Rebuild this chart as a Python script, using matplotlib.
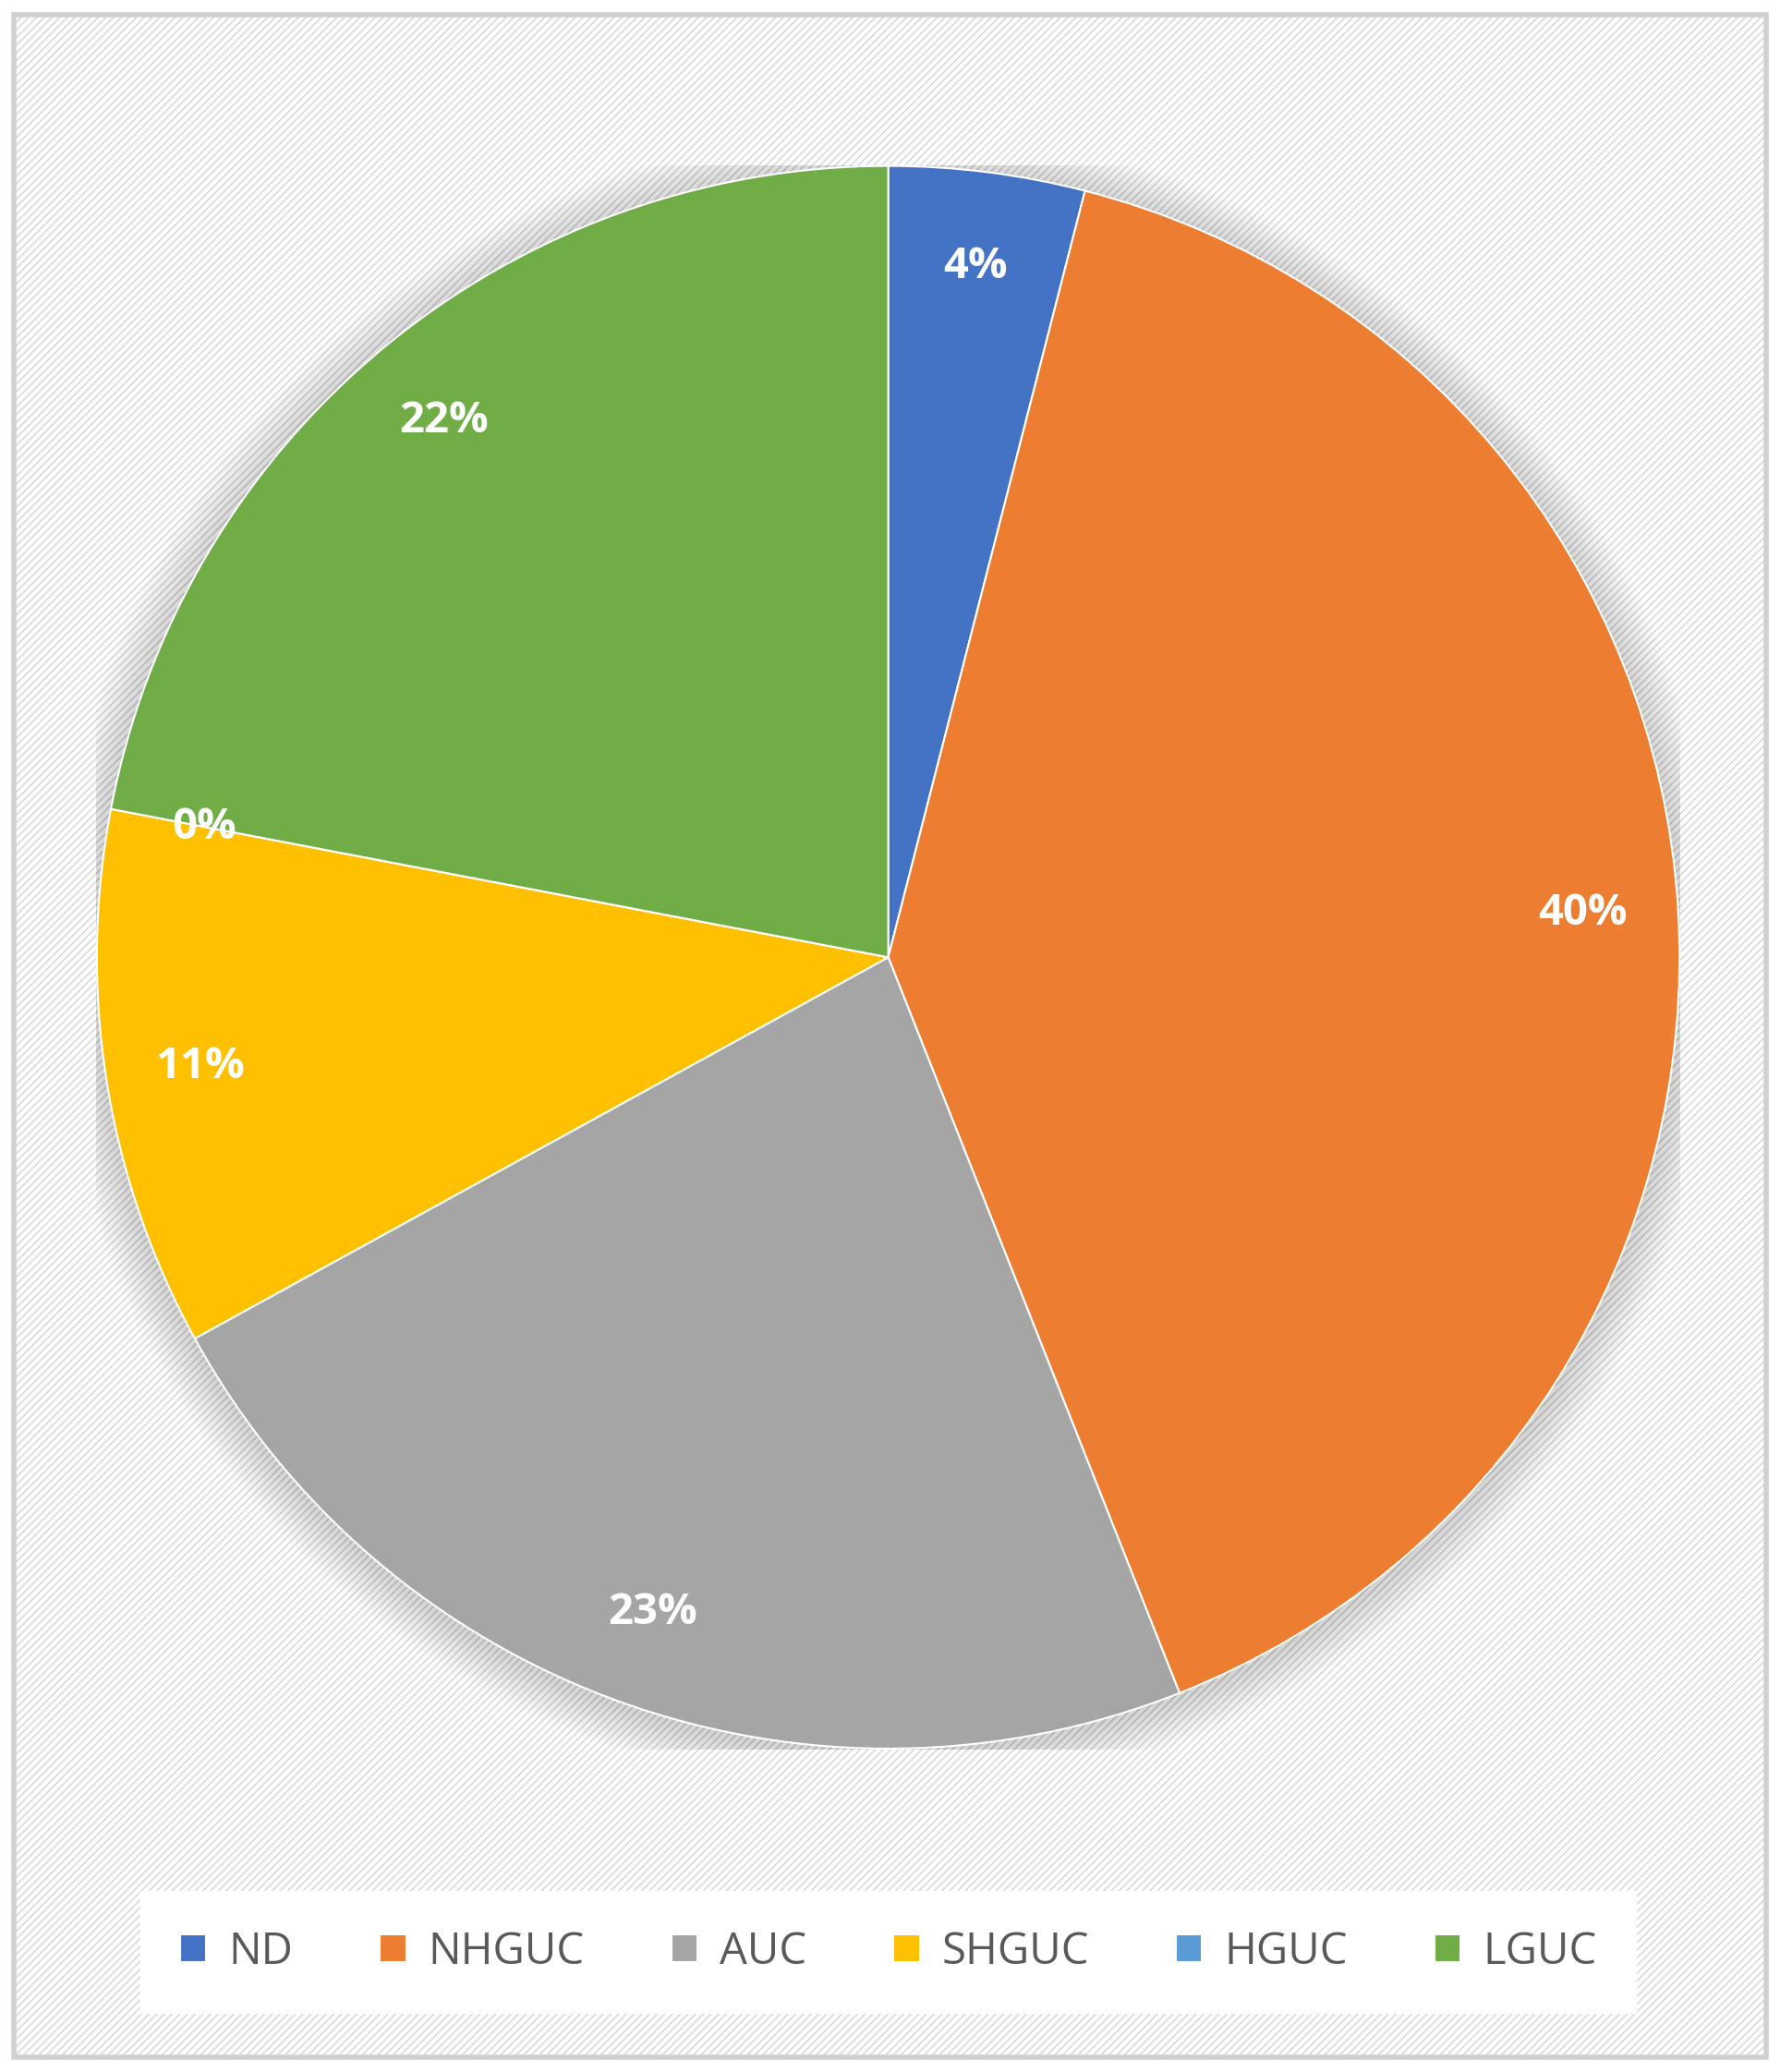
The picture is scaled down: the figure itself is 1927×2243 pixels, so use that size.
import matplotlib
matplotlib.use("Agg")
import matplotlib.pyplot as plt
from matplotlib.patches import Rectangle, Circle

labels = ["ND", "NHGUC", "AUC", "SHGUC", "HGUC", "LGUC"]
values = [4, 40, 23, 11, 0, 22]
colors = ["#4472C4", "#ED7D31", "#A5A5A5", "#FFC000", "#5B9BD5", "#70AD47"]

plt.rcParams['font.family'] = ['Open Sans', 'DejaVu Sans']
fig = plt.figure(figsize=(19.27, 22.43), dpi=100)
fig.patch.set_facecolor("white")

# hatched background + grey border
bg = Rectangle((0.008, 0.007), 0.984, 0.986, transform=fig.transFigure,
               facecolor="white", edgecolor="#d4d4d4", hatch="////", lw=0)
bg.set_zorder(-5)
fig.patches.append(bg)
fig.patches.append(Rectangle((0.008, 0.007), 0.984, 0.986, transform=fig.transFigure,
                             facecolor="none", edgecolor="#d0d0d0", lw=4, zorder=-4))
plt.rcParams['hatch.color'] = "#e6e6e6"
plt.rcParams['hatch.linewidth'] = 1.5

w = 0.89
h = w * 19.27 / 22.43
ax = fig.add_axes([0.499 - w / 2, 0.538 - h / 2, w, h])
ax.set_xlim(-1, 1); ax.set_ylim(-1, 1); ax.set_aspect("equal"); ax.axis("off")

# soft shadow
for i in range(14):
    ax.add_patch(Circle((0.0, -0.005), 1.0 + 0.004 * (14 - i), color="black",
                        alpha=0.012, lw=0, zorder=0))

wedges, texts, autotexts = ax.pie(
    values, colors=colors, startangle=90, counterclock=False, radius=1.0,
    autopct="%1.0f%%", pctdistance=0.88,
    wedgeprops=dict(edgecolor="white", linewidth=1.5, zorder=2),
    textprops=dict(color="white", fontsize=34, fontweight="bold"))
for t in autotexts:
    t.set_zorder(5)
ax.set_xlim(-1.001, 1.001); ax.set_ylim(-1.001, 1.001)

leg = fig.legend(wedges, labels, loc="center", bbox_to_anchor=(0.499, 0.058),
                 ncol=6, frameon=True, fontsize=34, handlelength=0.6, handleheight=0.6,
                 columnspacing=2.0, handletextpad=0.5, borderpad=0.6)
leg.get_frame().set_facecolor("white")
leg.get_frame().set_edgecolor("white")
leg.get_frame().set_alpha(1)
leg.get_frame().set_boxstyle("square", pad=0.3)
for t in leg.get_texts():
    t.set_color("#595959")

fig.savefig("out.png", dpi=100)
